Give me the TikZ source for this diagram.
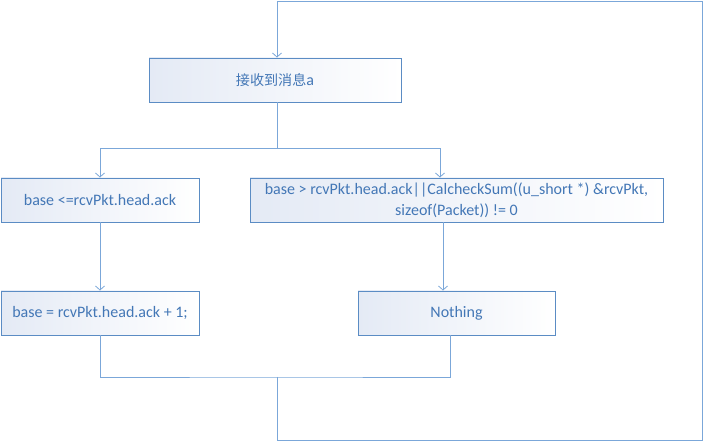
\documentclass[tikz,border=0pt]{standalone}
\usepackage{fontspec}
\setmainfont{Carlito}
\newfontfamily\cjk[Scale=0.88]{Noto Sans CJK SC}
\usepackage{xcolor}
\usetikzlibrary{arrows.meta,positioning,calc}
\definecolor{boxline}{HTML}{5B8CC4}
\definecolor{boxfill}{HTML}{E4EAF5}
\definecolor{flowline}{HTML}{7BA7D9}
\definecolor{boxtext}{HTML}{4377B6}
\tikzset{%
	process/.style = {draw=boxline, rectangle, minimum height=44pt, text centered, left color=boxfill, right color=white, text=boxtext, font=\fontsize{16}{21}\selectfont, inner sep=0pt, line width=0.9pt},
	arrow/.style   = {draw=flowline, line width=0.8pt, -{Straight Barb[length=4pt,width=9pt]}},
	flow/.style    = {draw=flowline, line width=0.8pt},
}

\begin{document}
\begin{tikzpicture}[x=1pt,y=-1pt]
	\useasboundingbox (0,0) rectangle (704,443);
	
	\node[process, minimum width=252pt] (recv) at (275,80) {{\cjk 接收到消息}a};
	\node[process, minimum width=198pt] (le) at (100,200) {base <=rcvPkt.head.ack};
	\node[process, minimum width=413pt, align=center] (gt) at (456.5,200) {base > rcvPkt.head.ack||CalcheckSum((u\_short *) \&rcvPkt,\\ sizeof(Packet)) != 0};
	\node[process, minimum width=198pt] (upd) at (100,313) {base = rcvPkt.head.ack + 1;};
	\node[process, minimum width=197pt] (none) at (456.5,313) {Nothing};
	
	\coordinate (split) at (277,148);
	\coordinate (merge) at (277,377);
	
	\draw[flow] ([xshift=2pt]recv.south) -- (split);
	\draw[arrow] (split) -| (le.north);
	\draw[arrow] (split) -| ([xshift=-16.5pt]gt.north);
	\draw[arrow] (le.south) -- (upd.north);
	\draw[arrow] ([xshift=-13.5pt]gt.south) -- ([xshift=-13.5pt]none.north);
	\draw[flow] (upd.south) |- (merge) -| ([xshift=-6.5pt]none.south);
	\draw[arrow] (merge) -- (277,440) -- (702,440) -- (702,1.5) -- (277,1.5) -- ([xshift=2pt]recv.north);
\end{tikzpicture}
\end{document}
